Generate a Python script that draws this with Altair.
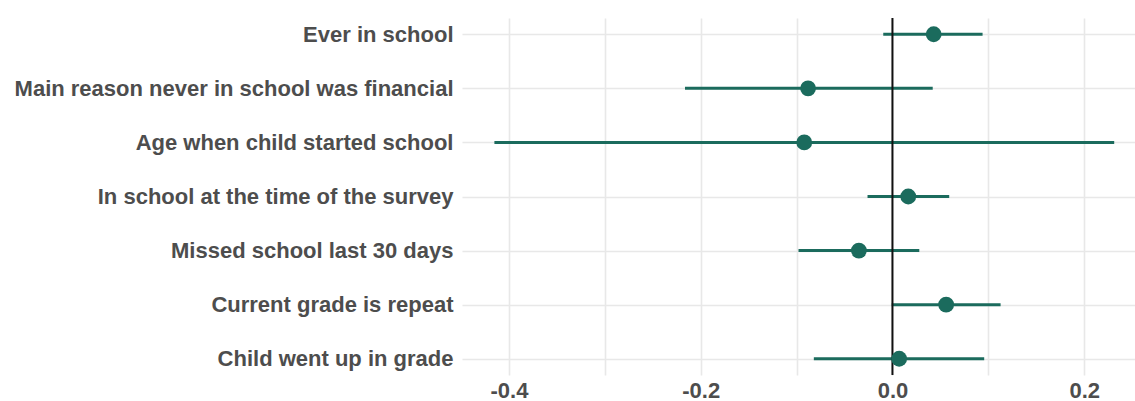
import altair as alt
import pandas as pd

# Outcome labels, top to bottom
outcomes = [
    "Ever in school",
    "Main reason never in school was financial",
    "Age when child started school",
    "In school at the time of the survey",
    "Missed school last 30 days",
    "Current grade is repeat",
    "Child went up in grade",
]
# Point estimates and confidence bounds
estimate = [0.043, -0.088, -0.092, 0.0165, -0.035, 0.056, 0.007]
ci_low = [-0.0096, -0.2164, -0.4152, -0.026, -0.098, -0.0008, -0.082]
ci_high = [0.094, 0.042, 0.2313, 0.0592, 0.028, 0.1128, 0.0957]

# Axis tick values (grid at every 0.1, labels at every 0.2)
x_ticks = [-0.4, -0.3, -0.2, -0.1, 0.0, 0.1, 0.2]

df = pd.DataFrame({
    "outcome": outcomes,
    "estimate": estimate,
    "low": ci_low,
    "high": ci_high,
})
zero_df = pd.DataFrame({"x0": [0.0]})

teal = "#1b6b5d"
label_color = "#4d4d4d"

x_scale = alt.Scale(domain=[-0.449, 0.253], nice=False, zero=False)
y_enc = alt.Y(
    "outcome:N",
    sort=outcomes,
    scale=alt.Scale(type="point", padding=0.3),
    axis=alt.Axis(
        title=None,
        ticks=False,
        domain=False,
        grid=True,
        gridColor="#e8e8e8",
        gridWidth=1.6,
        labelFont="Liberation Sans",
        labelFontWeight="bold",
        labelFontSize=22,
        labelColor=label_color,
        labelPadding=9,
        labelLimit=600,
        minExtent=457,
        maxExtent=457,
    ),
)

x_axis = alt.Axis(
    title=None,
    values=x_ticks,
    ticks=False,
    domain=False,
    grid=True,
    gridColor="#e8e8e8",
    gridWidth=1.6,
    labelFont="Liberation Sans",
    labelFontWeight="bold",
    labelFontSize=22,
    labelColor=label_color,
    labelPadding=5,
    labelExpr="abs(round(datum.value * 10)) % 2 == 0 ? replace(format(datum.value, '.1f'), '\u2212', '-') : ''",
)

bars = alt.Chart(df).mark_rule(color=teal, strokeWidth=3).encode(
    x=alt.X("low:Q", scale=x_scale, axis=x_axis),
    x2="high:Q",
    y=y_enc,
)

zero_line = alt.Chart(zero_df).mark_rule(color="#111111", strokeWidth=2).encode(
    x=alt.X("x0:Q", scale=x_scale),
)

points = alt.Chart(df).mark_circle(color=teal, size=250, opacity=1).encode(
    x=alt.X("estimate:Q", scale=x_scale),
    y=alt.Y("outcome:N", sort=outcomes),
)

chart = (
    alt.layer(bars, zero_line, points)
    .properties(
        width=673,
        height=357,
        background="white",
        padding={"left": 5, "top": 17, "right": 0, "bottom": 0},
    )
    .configure_view(strokeWidth=0, stroke=None)
)

chart.save("out.html", embed_options={"renderer": "svg", "actions": False})
